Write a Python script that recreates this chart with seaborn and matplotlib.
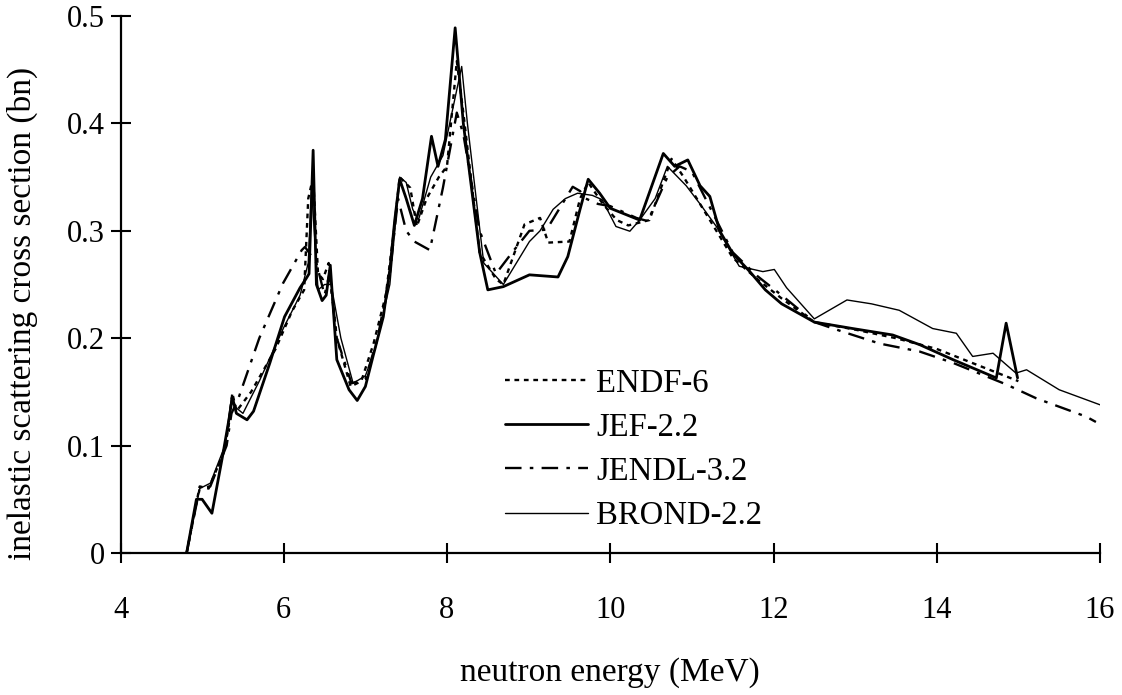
import matplotlib
matplotlib.use("Agg")
import matplotlib.pyplot as plt
import seaborn as sns
import pandas as pd

# ---------------- data ----------------
endf_E = [4.81, 4.97, 5.08, 5.26, 5.32, 5.37, 5.42, 5.6, 5.9, 6.1, 6.25, 6.3, 6.36, 6.42, 6.48,
          6.55, 6.65, 6.82, 6.95, 7.1, 7.25, 7.35, 7.42, 7.55, 7.63, 7.75, 7.9, 8.0, 8.12, 8.2,
          8.4, 8.6, 8.69, 8.95, 9.14, 9.24, 9.5, 9.63, 9.73, 9.91, 10.08, 10.22, 10.48, 10.75,
          10.9, 11.1, 11.3, 11.5, 11.8, 12.1, 12.5, 13.0, 13.5, 14.0, 14.5, 15.0]
endf_s = [0, 0.062, 0.06, 0.093, 0.115, 0.149, 0.132, 0.15, 0.19, 0.225, 0.245, 0.33, 0.35, 0.26,
          0.255, 0.27, 0.2, 0.155, 0.16, 0.195, 0.24, 0.30, 0.35, 0.34, 0.304, 0.33, 0.35, 0.36,
          0.458, 0.41, 0.28, 0.255, 0.25, 0.306, 0.312, 0.289, 0.29, 0.33, 0.345, 0.325, 0.31,
          0.305, 0.31, 0.367, 0.35, 0.325, 0.30, 0.275, 0.255, 0.237, 0.215, 0.208, 0.200, 0.19,
          0.175, 0.16]

jef_E = [4.81, 4.93, 5.0, 5.12, 5.25, 5.33, 5.37, 5.42, 5.55, 5.63, 5.83, 6.01, 6.2, 6.27, 6.31,
         6.36, 6.4, 6.47, 6.52, 6.57, 6.65, 6.8, 6.9, 7.0, 7.1, 7.22, 7.3, 7.36, 7.42, 7.5, 7.6,
         7.7, 7.81, 7.89, 7.98, 8.1, 8.2, 8.4, 8.5, 8.69, 9.01, 9.36, 9.48, 9.63, 9.73, 9.87,
         10.0, 10.36, 10.65, 10.79, 10.95, 11.1, 11.22, 11.34, 11.5, 11.71, 11.9, 12.1, 12.5,
         12.97, 13.46, 13.79, 14.2, 14.73, 14.85, 14.99]
jef_s = [0, 0.05, 0.05, 0.037, 0.09, 0.125, 0.145, 0.13, 0.124, 0.132, 0.177, 0.22, 0.247, 0.255,
         0.26, 0.375, 0.25, 0.235, 0.24, 0.268, 0.18, 0.152, 0.142, 0.155, 0.185, 0.22, 0.264,
         0.31, 0.348, 0.33, 0.305, 0.33, 0.388, 0.36, 0.385, 0.489, 0.40, 0.28, 0.245, 0.248,
         0.259, 0.257, 0.276, 0.32, 0.348, 0.335, 0.321, 0.31, 0.372, 0.36, 0.366, 0.342, 0.332,
         0.30, 0.279, 0.262, 0.245, 0.232, 0.215, 0.209, 0.203, 0.194, 0.18, 0.163, 0.214, 0.163]

jendl_E = [4.81, 4.97, 5.1, 5.3, 5.36, 5.44, 5.7, 5.99, 6.22, 6.26, 6.4, 6.5, 6.56, 6.65, 6.83,
           7.0, 7.15, 7.3, 7.4, 7.5, 7.6, 7.79, 7.95, 8.12, 8.2, 8.4, 8.6, 8.8, 9.01, 9.22, 9.54,
           9.63, 9.7, 9.85, 10.0, 10.32, 10.46, 10.7, 10.85, 11.0, 11.3, 11.5, 11.8, 12.1, 12.5,
           12.85, 13.3, 13.79, 14.2, 14.85, 15.22, 15.83, 15.95]
jendl_s = [0, 0.06, 0.062, 0.1, 0.13, 0.143, 0.2, 0.251, 0.282, 0.285, 0.27, 0.24, 0.26, 0.2,
           0.158, 0.162, 0.2, 0.26, 0.33, 0.3, 0.29, 0.282, 0.34, 0.41, 0.39, 0.3, 0.26, 0.28,
           0.30, 0.301, 0.341, 0.337, 0.33, 0.325, 0.323, 0.312, 0.309, 0.35, 0.36, 0.355, 0.31,
           0.28, 0.258, 0.24, 0.215, 0.206, 0.195, 0.1876, 0.177, 0.157, 0.144, 0.127, 0.122]

brond_E = [4.81, 4.97, 5.1, 5.28, 5.36, 5.42, 5.5, 5.7, 6.0, 6.2, 6.3, 6.34, 6.42, 6.5, 6.58,
           6.7, 6.85, 7.0, 7.12, 7.3, 7.42, 7.5, 7.58, 7.65, 7.8, 7.95, 8.18, 8.25, 8.45, 8.69,
           9.01, 9.14, 9.3, 9.45, 9.6, 9.78, 9.9, 10.07, 10.24, 10.36, 10.55, 10.7, 10.93, 11.1,
           11.3, 11.42, 11.58, 11.87, 12.01, 12.16, 12.5, 12.9, 13.2, 13.54, 13.95, 14.24, 14.44,
           14.69, 14.97, 15.1, 15.5, 16.0]
brond_s = [0, 0.06, 0.065, 0.1, 0.145, 0.135, 0.13, 0.16, 0.21, 0.24, 0.27, 0.34, 0.245, 0.25,
           0.25, 0.2, 0.158, 0.165, 0.19, 0.25, 0.35, 0.345, 0.32, 0.31, 0.35, 0.37, 0.453, 0.40,
           0.27, 0.25, 0.29, 0.30, 0.32, 0.33, 0.335, 0.333, 0.329, 0.304, 0.2996, 0.31, 0.33,
           0.36, 0.342, 0.325, 0.304, 0.288, 0.267, 0.262, 0.264, 0.247, 0.218, 0.2356, 0.232,
           0.226, 0.209, 0.2046, 0.183, 0.186, 0.1675, 0.1706, 0.152, 0.138]

labels = ["ENDF-6", "JEF-2.2", "JENDL-3.2", "BROND-2.2"]
x_ticks = [4, 6, 8, 10, 12, 14, 16]
y_ticks = [0, 0.1, 0.2, 0.3, 0.4, 0.5]
y_tick_labels = ["0", "0.1", "0.2", "0.3", "0.4", "0.5"]

# ---------------- styling ----------------
sns.set_theme(style="ticks")
plt.rcParams["font.family"] = ["Liberation Serif", "DejaVu Serif"]

fig = plt.figure(figsize=(11.22, 6.95), dpi=100)
ax = fig.add_axes([120.5 / 1122, 1 - 553 / 695, 979.5 / 1122, 537 / 695])

series = [(endf_E, endf_s), (jef_E, jef_s), (jendl_E, jendl_s), (brond_E, brond_s)]
styles = [
    dict(lw=1.7, dashes=(2.0, 2.0)),
    dict(lw=2.0),
    dict(lw=1.7, dashes=(7, 3.5, 1.5, 3.5)),
    dict(lw=1.0),
]
for (E, s), lab, st in zip(series, labels, styles):
    df = pd.DataFrame({"E": E, "s": s})
    sns.lineplot(data=df, x="E", y="s", ax=ax, sort=False, estimator=None,
                 label=lab, color="black", linewidth=st["lw"])
    if "dashes" in st:
        ax.lines[-1].set_dashes(st["dashes"])

ax.set_xlim(4, 16)
ax.set_ylim(0, 0.5)
ax.set_xticks(x_ticks)
ax.set_xticklabels([str(t) for t in x_ticks])
ax.set_yticks(y_ticks)
ax.set_yticklabels(y_tick_labels)
sns.despine(ax=ax)
for sp in ("left", "bottom"):
    ax.spines[sp].set_linewidth(1.6)
    ax.spines[sp].set_color("black")
ax.tick_params(axis="both", direction="inout", length=14, width=1.5, colors="black",
               labelsize=22)
ax.tick_params(axis="x", pad=24)
ax.tick_params(axis="y", pad=4)

ax.set_xlabel("neutron energy (MeV)", fontsize=24, color="black")
ax.set_ylabel("inelastic scattering cross section (bn)", fontsize=24, color="black")
ax.xaxis.set_label_coords(0.5, (553 - 673) / 537)
ax.xaxis.label.set_va("center")
ax.yaxis.set_label_coords((22 - 120.5) / 979.5, (553 - 313) / 537)
ax.yaxis.label.set_va("center")
ax.yaxis.label.set_ha("center")

leg = ax.legend(loc="upper left", bbox_to_anchor=(505 / 1122, 1 - 368 / 695),
                bbox_transform=fig.transFigure, frameon=False, fontsize=23.5,
                handlelength=2.55, handletextpad=0.25, labelspacing=0.42,
                borderpad=0, borderaxespad=0)
for t in leg.get_texts():
    t.set_color("black")

fig.savefig("out.png", dpi=100, facecolor="white")
